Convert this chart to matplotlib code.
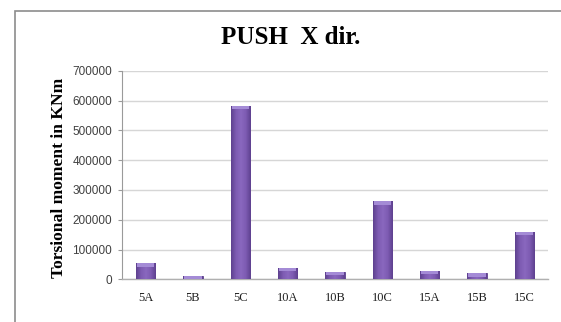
import numpy as np
import matplotlib
matplotlib.use("Agg")
import matplotlib.pyplot as plt
from matplotlib.patches import Rectangle
from matplotlib.colors import LinearSegmentedColormap

categories = ["5A", "5B", "5C", "10A", "10B", "10C", "15A", "15B", "15C"]
torsion = [53700, 12000, 581000, 38000, 25700, 261600, 29000, 20100, 158800]
y_ticks = [0, 100000, 200000, 300000, 400000, 500000, 600000, 700000]

fig = plt.figure(figsize=(5.61, 3.22), dpi=100)
fig.patch.set_facecolor("white")

# chart frame (runs off the right and bottom edges)
fig.patches.append(Rectangle((14.7 / 561, -0.2), 1.2, 0.2 + (1 - 10.7 / 322),
                             transform=fig.transFigure, fill=False,
                             edgecolor="#8c8c8c", linewidth=1.2, zorder=0))

ax = fig.add_axes([122 / 561, 42.7 / 322, 426 / 561, 208.6 / 322])
ax.set_facecolor("none")

x = np.arange(len(categories))
width = 0.41
bars = ax.bar(x, torsion, width=width, color="#7a58ad", edgecolor="#5b3f8c",
              linewidth=0.6, zorder=3)

# cylinder-like shading across each bar plus a lighter bevel at the top
shade = LinearSegmentedColormap.from_list(
    "shade", ["#5e418f", "#7d5bb2", "#8a68bf", "#7d5bb2", "#5e418f"])
grad = np.linspace(0, 1, 64).reshape(1, -1)
cap = 11000
for xi, val, b in zip(x, torsion, bars):
    im = ax.imshow(grad, cmap=shade, aspect="auto",
                   extent=(xi - width / 2, xi + width / 2, 0, val), zorder=3.5)
    im.set_clip_path(b)
    h = min(cap, val)
    ax.bar(xi, h, bottom=val - h, width=width * 0.88,
           color="#a48bd6", linewidth=0, zorder=4)
ax.set_xlim(-0.5, len(categories) - 0.5)
ax.set_ylim(0, 700000)

ax.set_yticks(y_ticks)
ax.set_yticklabels([str(v) for v in y_ticks], fontfamily="Liberation Sans",
                   fontsize=8.5, color="#404040")
ax.set_xticks(x)
ax.set_xticklabels(categories, fontfamily="Liberation Serif", fontsize=9,
                   color="#202020")
ax.tick_params(axis="y", length=3, width=0.8, color="#9a9a9a", pad=4)
ax.tick_params(axis="x", length=0, pad=9)

ax.grid(axis="y", color="#d6d6d6", linewidth=1.0, zorder=0)
ax.set_axisbelow(True)
for side in ["top", "right"]:
    ax.spines[side].set_visible(False)
ax.spines["left"].set_color("#9a9a9a")
ax.spines["left"].set_linewidth(0.8)
ax.spines["bottom"].set_color("#b0b0b0")
ax.spines["bottom"].set_linewidth(1.0)

fig.text(290.8 / 561, 1 - 44.3 / 322, "PUSH  X dir.", ha="center", va="baseline",
         fontfamily="Liberation Serif", fontweight="bold", fontsize=18, color="black")
fig.text(59 / 561, 1 - 178 / 322, "Torsional moment in KNm", rotation=90,
         ha="center", va="center", fontfamily="Liberation Serif",
         fontweight="bold", fontsize=12.6, color="black")

fig.savefig("out.png", dpi=100, facecolor="white")
